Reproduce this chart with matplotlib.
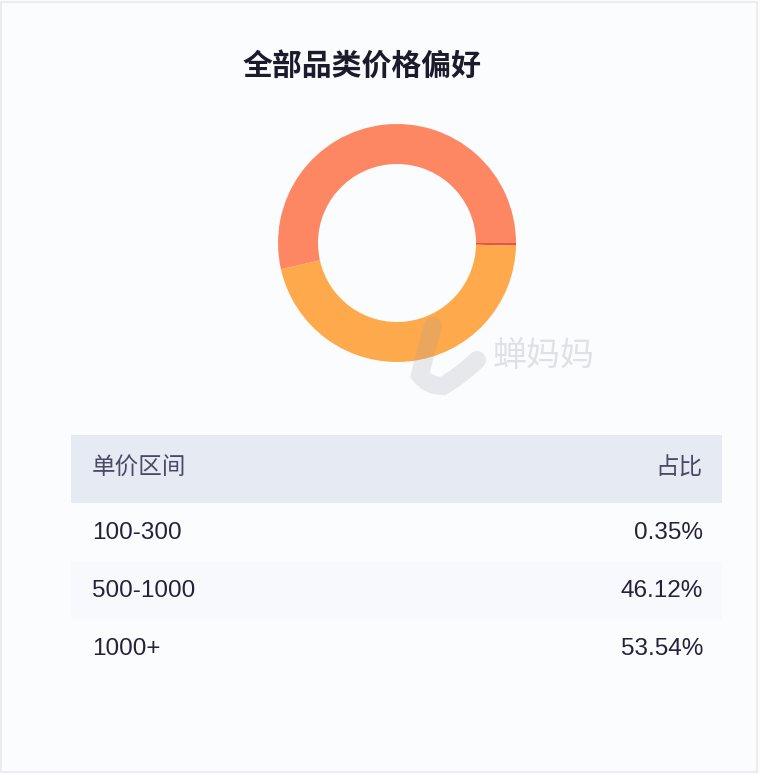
import matplotlib.pyplot as plt
from matplotlib.patches import Rectangle, PathPatch
from matplotlib.path import Path

# Données
titre = '全部品类价格偏好'
intervalles = ['100-300', '500-1000', '1000+']
parts = [0.35, 46.12, 53.54]
couleurs = ['#e4553c', '#fea94b', '#fe8763']
entete = ['单价区间', '占比']

W, H = 760, 774
police_cjk = ['Noto Sans CJK SC', 'DejaVu Sans']
police_chiffres = ['Liberation Sans', 'DejaVu Sans']

fig = plt.figure(figsize=(W / 100, H / 100), dpi=100)
fig.patch.set_facecolor('#fbfcfe')


# conversion pixels -> fraction de la figure
def fx(x):
    return x / W


def fy(y):
    return 1 - y / H


# cadre autour de la figure
fig.add_artist(Rectangle((fx(1), fy(772)), fx(756), 770 / H, transform=fig.transFigure,
                         fill=False, edgecolor='#e6e9ee', linewidth=1.2))

# titre
fig.text(fx(362), fy(66), titre, ha='center', va='center', fontsize=21.5,
         fontweight='bold', color='#1c1a2c', family=police_cjk)

# anneau
cx, cy, r = 397, 243, 119
demi = 125
ax = fig.add_axes([fx(cx - demi), fy(cy + demi), 2 * demi / W, 2 * demi / H])
ax.pie(parts, colors=couleurs, startangle=0, counterclock=False, radius=1,
       wedgeprops=dict(width=40 / r, linewidth=0))
ax.set_xlim(-demi / r, demi / r)
ax.set_ylim(-demi / r, demi / r)
ax.set_aspect('equal')
ax.axis('off')

# filigrane
pts = [(433, 326), (426, 350), (420, 375), (428, 386), (443, 386), (460, 376), (477, 360)]
codes = [Path.MOVETO, Path.CURVE3, Path.CURVE3, Path.CURVE3, Path.CURVE3, Path.CURVE3, Path.CURVE3]
chemin = Path([(fx(x), fy(y)) for x, y in pts], codes)
fig.add_artist(PathPatch(chemin, transform=fig.transFigure, fill=False,
                         edgecolor='#9a9aa6', alpha=0.2, linewidth=13, capstyle='round'))
fig.text(fx(493), fy(357), '蝉妈妈', ha='left', va='center', fontsize=24.5,
         color='#e0e1e6', family=police_cjk)

# tableau
fig.add_artist(Rectangle((fx(71), fy(503)), 651 / W, 68 / H, transform=fig.transFigure,
                         facecolor='#e6ebf3', edgecolor='none'))
fig.add_artist(Rectangle((fx(71), fy(620)), 651 / W, 58 / H, transform=fig.transFigure,
                         facecolor='#f8f9fc', edgecolor='none'))
fig.text(fx(92), fy(468), entete[0], ha='left', va='center', fontsize=17,
         color='#4b4a66', family=police_cjk)
fig.text(fx(703), fy(468), entete[1], ha='right', va='center', fontsize=17,
         color='#4b4a66', family=police_cjk)

y_lignes = [533, 591, 649]
for i in range(len(intervalles)):
    fig.text(fx(92), fy(y_lignes[i]), intervalles[i], ha='left', va='center', fontsize=17.5,
             color='#27203a', family=police_chiffres)
    fig.text(fx(703), fy(y_lignes[i]), '%.2f%%' % parts[i], ha='right', va='center',
             fontsize=17.5, color='#27203a', family=police_chiffres)

fig.savefig('out.png', dpi=100, facecolor=fig.get_facecolor())
